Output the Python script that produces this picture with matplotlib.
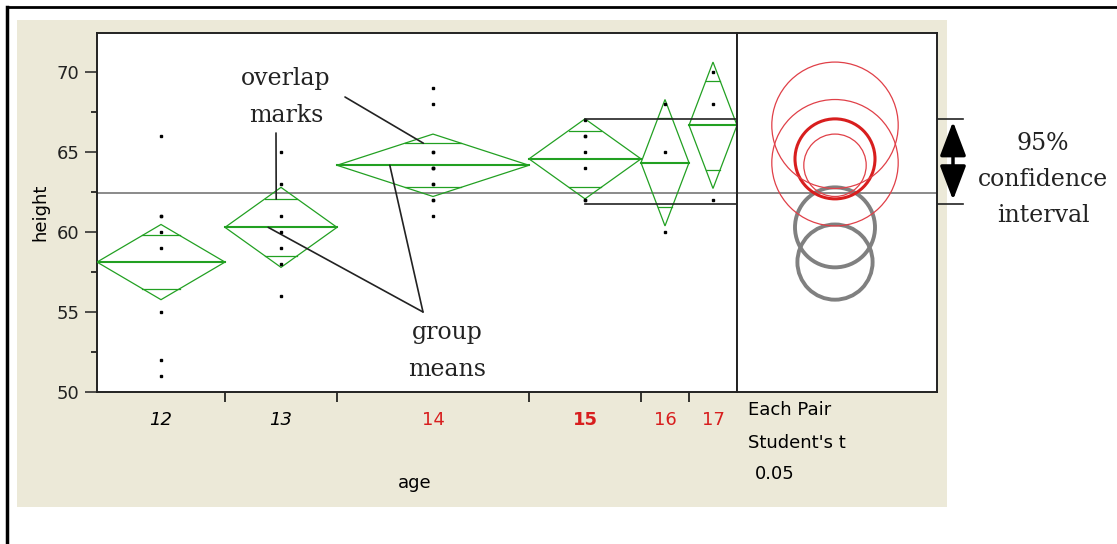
import numpy as np
import matplotlib.pyplot as plt
from matplotlib.patches import Rectangle, Circle, Polygon
from matplotlib.lines import Line2D

W, H = 1117, 544

# --- data ---
ages = ["12", "13", "14", "15", "16", "17"]
group_sizes = [8, 7, 12, 7, 3, 3]
group_means = [58.12, 60.29, 64.17, 64.57, 64.33, 66.67]
ci_half = [2.35, 2.5, 1.95, 2.5, 3.95, 3.95]
heights_12 = [51, 52, 55, 59, 60, 61, 61, 66]
heights_13 = [56, 58, 59, 60, 61, 63, 65]
heights_14 = [61, 62, 62, 63, 63, 64, 64, 64, 65, 65, 68, 69]
heights_15 = [62, 62, 64, 65, 66, 66, 67]
heights_16 = [60, 65, 68]
heights_17 = [62, 68, 70]
grand_mean = 62.45
ci_band = [61.75, 67.05]

heights = [heights_12, heights_13, heights_14, heights_15, heights_16, heights_17]

# styles
green = "#22a022"
red = "#d81e1e"
tick_colors = ["black", "black", red, red, red, red]
tick_styles = ["italic", "italic", "normal", "normal", "normal", "normal"]
tick_weights = ["normal", "normal", "normal", "bold", "normal", "normal"]
circle_colors = ["#808080", "#808080", "#e04048", red, "#e04048", "#e04048"]
circle_widths = [2.8, 2.8, 0.9, 2.2, 0.9, 0.9]

sans = "DejaVu Sans"
serif = "DejaVu Serif"
plt.rcParams["font.family"] = sans


def fpx(x, y):
    return x / W, 1 - y / H


fig = plt.figure(figsize=(W / 100, H / 100), dpi=100)
fig.patch.set_facecolor("white")

# beige panel and outer frame
fig.add_artist(Rectangle(fpx(17, 507), 930 / W, 487 / H, transform=fig.transFigure,
                         facecolor="#ECE9D8", edgecolor="none", zorder=0))
fig.add_artist(Line2D([7 / W, 1], [1 - 7 / H] * 2, transform=fig.transFigure, color="black", lw=2))
fig.add_artist(Line2D([7 / W] * 2, [1 - 7 / H, 0], transform=fig.transFigure, color="black", lw=2.5))

ax = fig.add_axes([97 / W, 1 - 392 / H, 640 / W, 359 / H])
ax2 = fig.add_axes([737 / W, 1 - 392 / H, 200 / W, 359 / H], sharey=ax)

bounds = np.concatenate([[0], np.cumsum(group_sizes)])
centers = (bounds[:-1] + bounds[1:]) / 2

ax.set_xlim(0, bounds[-1])
ax.set_ylim(50, 50 + 359 / 16)

ax.axhline(grand_mean, color="#8a8a8a", lw=1.4, zorder=1)
ax2.axhline(grand_mean, color="#8a8a8a", lw=1.4, zorder=1)

for i in range(len(ages)):
    left, right, c = bounds[i], bounds[i + 1], centers[i]
    m, h = group_means[i], ci_half[i]
    diamond = Polygon([(left, m), (c, m + h), (right, m), (c, m - h)], closed=True,
                      fill=False, edgecolor=green, lw=0.9, zorder=3)
    ax.add_patch(diamond)
    ax.plot([left, right], [m, m], color=green, lw=1.5, zorder=3)
    off = h * np.sqrt(2) / 2
    half_w = (c - left) * (1 - off / h)
    for sgn in (1, -1):
        ax.plot([c - half_w, c + half_w], [m + sgn * off, m + sgn * off], color=green, lw=0.9, zorder=3)
    ax.plot([c] * len(heights[i]), heights[i], "s", color="black", ms=2.1, zorder=4)

# comparison circles
cx = 98 / 16
ax2.set_xlim(0, 200 / 16)
for i in range(len(ages)):
    ax2.add_patch(Circle((cx, group_means[i]), ci_half[i], fill=False,
                         edgecolor=circle_colors[i], lw=circle_widths[i], zorder=3))

# axes styling
for a in (ax, ax2):
    a.set_facecolor("white")
    for s in a.spines.values():
        s.set_color("#222222")
        s.set_linewidth(1.4)

ax.set_yticks([50, 55, 60, 65, 70])
ax.set_yticks([52.5, 57.5, 62.5, 67.5], minor=True)
ax.tick_params(axis="y", which="major", length=8.5, width=1.1, pad=4, labelsize=13, colors="#222222")
ax.tick_params(axis="y", which="minor", length=4.5, width=1.1)

ax.set_xticks(bounds[1:-1])
ax.set_xticklabels([])
ax.set_xticks(centers, minor=True)
ax.set_xticklabels(ages, minor=True)
ax.tick_params(axis="x", which="major", length=7, width=1.1, direction="out")
ax.tick_params(axis="x", which="minor", length=0, pad=14, labelsize=13)
for lab, col, sty, wt in zip(ax.get_xticklabels(minor=True), tick_colors, tick_styles, tick_weights):
    lab.set_color(col)
    lab.set_fontstyle(sty)
    lab.set_fontweight(wt)

ax2.tick_params(axis="both", which="both", left=False, labelleft=False, bottom=False, labelbottom=False)

fig.text(*fpx(40, 212), "height", rotation=90, ha="center", va="center", fontsize=13)
fig.text(*fpx(415, 483), "age", ha="center", va="center", fontsize=13)
fig.text(*fpx(748, 410), "Each Pair", ha="left", va="center", fontsize=13)
fig.text(*fpx(748, 443), "Student's t", ha="left", va="center", fontsize=13)
fig.text(*fpx(755, 474), "0.05", ha="left", va="center", fontsize=13)

# annotations
k = 3  # age 15
ax.plot([centers[k], 54.1], [ci_band[1]] * 2, color="#222222", lw=1.2, clip_on=False, zorder=5)
ax.plot([centers[k], 54.1], [ci_band[0]] * 2, color="#222222", lw=1.2, clip_on=False, zorder=5)
ax.annotate("", xy=(53.5, ci_band[1] - 0.15), xytext=(53.5, ci_band[0] + 0.25),
            arrowprops=dict(arrowstyle="<|-|>,head_length=1.05,head_width=0.4", lw=2.5,
                            color="black", mutation_scale=20, shrinkA=0, shrinkB=0),
            annotation_clip=False)

for txt, y in [("95%", 150), ("confidence", 186), ("interval", 222)]:
    fig.text(*fpx(1043, y), txt, ha="center", va="baseline", fontsize=17, family=serif, color="#222222")

fig.text(*fpx(286, 85), "overlap", ha="center", va="baseline", fontsize=17, family=serif, color="#222222")
fig.text(*fpx(286, 122), "marks", ha="center", va="baseline", fontsize=17, family=serif, color="#222222")
fig.text(*fpx(447, 339), "group", ha="center", va="baseline", fontsize=17, family=serif, color="#222222")
fig.text(*fpx(447, 376), "means", ha="center", va="baseline", fontsize=17, family=serif, color="#222222")

lead = dict(arrowstyle="-", color="#222222", lw=1.2, shrinkA=0, shrinkB=0)
ov14 = group_means[2] + ci_half[2] * np.sqrt(2) / 2
ov13 = group_means[1] + ci_half[1] * np.sqrt(2) / 2
ax.annotate("", xy=(20.4, ov14), xytext=(345, H - 97), textcoords="figure pixels",
            arrowprops=lead, annotation_clip=False)
ax.annotate("", xy=(11.2, ov13), xytext=(276, H - 133), textcoords="figure pixels",
            arrowprops=lead, annotation_clip=False)
ax.annotate("", xy=(18.3, group_means[2]), xytext=(423, H - 312), textcoords="figure pixels",
            arrowprops=lead, annotation_clip=False)
ax.annotate("", xy=(10.7, group_means[1]), xytext=(423, H - 312), textcoords="figure pixels",
            arrowprops=lead, annotation_clip=False)

fig.savefig("out.png", dpi=100)
